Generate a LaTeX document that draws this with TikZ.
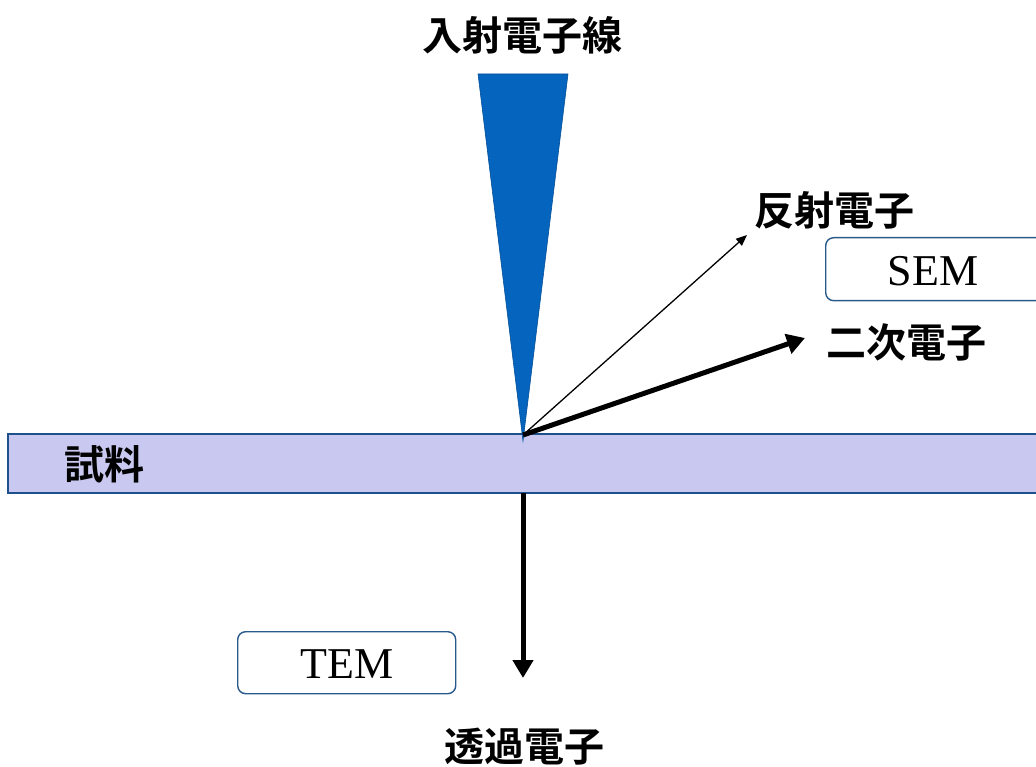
\documentclass[tikz,border=0pt]{standalone}
\usepackage{fontspec}
\setmainfont{Liberation Serif}
\newfontfamily\jp{Noto Sans CJK JP}[BoldFont={* Bold}]
\usetikzlibrary{arrows.meta}
\definecolor{conecol}{RGB}{5,100,190}
\definecolor{barfill}{RGB}{200,200,240}
\definecolor{barline}{RGB}{30,80,140}
\definecolor{boxline}{RGB}{40,90,140}
\tikzset{
  jplabel/.style={font=\jp\bfseries\fontsize{40}{46}\selectfont, inner sep=0pt},
  mbox/.style={draw=boxline, line width=1.4pt, rounded corners=8pt, fill=white},
  boxtext/.style={font=\fontsize{44}{50}\selectfont, inner sep=0pt},
  thinarrow/.style={line width=1.3pt, -{Triangle[length=11pt,width=9pt]}},
  thickarrow/.style={line width=5pt, -{Triangle[length=18pt,width=20pt]}},
}
\begin{document}
\begin{tikzpicture}[x=1pt,y=-1pt]
\useasboundingbox (0,0) rectangle (1036,767);
\begin{scope}
\clip (0,0) rectangle (1036,767);
% sample bar
\draw[fill=barfill, draw=barline, line width=1.6pt] (8,434) rectangle (1050,493);
% boxes
\node[mbox, minimum width=230pt, minimum height=63pt, anchor=north west] (sembox) at (825,237) {};
\node[mbox, minimum width=218pt, minimum height=62pt, anchor=north west] (tembox) at (237,631) {};
\end{scope}
% cone
\fill[conecol] (478,74) -- (568,74) -- (523,441) -- cycle;
\draw[conecol!80!black, line width=0.6pt] (478,74) -- (568,74) -- (523,441) -- cycle;
% texts
\node[jplabel] (beam) at (522,35) {入射電子線};
\node[jplabel] (refl) at (834,210) {反射電子};
\node[jplabel] (sec) at (906,342) {二次電子};
\node[jplabel] (trans) at (524,747) {透過電子};
\node[jplabel] (sample) at (104,464) {試料};
\node[boxtext] (semtext) at (933,271) {SEM};
\node[boxtext] (temtext) at (347,664) {TEM};
% arrows
\coordinate (apex) at (523,435);
\coordinate (reflend) at (747,235);
\coordinate (secend) at (805,338);
\coordinate (transstart) at (523,493);
\coordinate (transend) at (523,678);
\draw[thinarrow] (apex) -- (reflend);
\draw[thickarrow] (apex) -- (secend);
\draw[thickarrow] (transstart) -- (transend);
\end{tikzpicture}
\end{document}
